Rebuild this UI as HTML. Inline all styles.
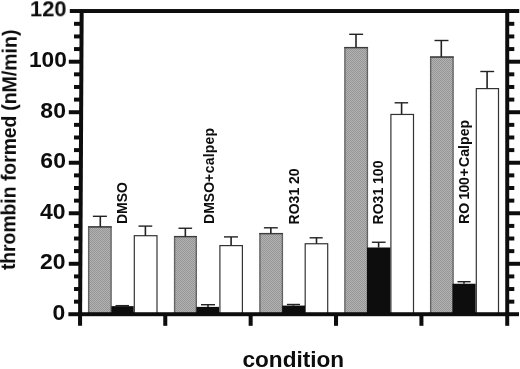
<!DOCTYPE html>
<html><head><meta charset="utf-8"><title>chart</title>
<style>
html,body{margin:0;padding:0;background:#fff;}
body{width:520px;height:369px;overflow:hidden;}
svg{display:block;will-change:transform;}
text{font-family:"Liberation Sans",sans-serif;font-weight:bold;fill:#0c0c0c;}
</style></head><body>
<svg width="520" height="369" viewBox="0 0 520 369">
<defs>
<pattern id="ht" width="2" height="2" patternUnits="userSpaceOnUse">
<rect width="2" height="2" fill="#b3b3b3"/>
<rect width="1" height="1" fill="#959595"/>
<rect x="1" y="1" width="1" height="1" fill="#959595"/>
</pattern>
<filter id="soft" x="0" y="0" width="520" height="369" filterUnits="userSpaceOnUse"><feGaussianBlur stdDeviation="0.38"/></filter>
</defs>
<rect width="520" height="369" fill="#fff"/>
<g filter="url(#soft)">
<rect width="520" height="369" fill="#fff"/>

<rect x="88.65" y="226.90" width="22.45" height="86.70" fill="url(#ht)" stroke="#646464" stroke-width="1.4"/>
<path d="M88.05 226.90H111.70" stroke="#3c3c3c" stroke-width="1.2" fill="none"/>
<rect x="134.30" y="235.70" width="22.70" height="77.90" fill="#fff" stroke="#333" stroke-width="1.2"/>
<rect x="111.40" y="306.15" width="22.25" height="6.85" fill="#080808"/>
<rect x="174.60" y="236.60" width="21.70" height="77.00" fill="url(#ht)" stroke="#646464" stroke-width="1.4"/>
<path d="M174.00 236.60H196.90" stroke="#3c3c3c" stroke-width="1.2" fill="none"/>
<rect x="219.90" y="245.60" width="22.50" height="68.00" fill="#fff" stroke="#333" stroke-width="1.2"/>
<rect x="196.50" y="306.90" width="22.50" height="6.10" fill="#080808"/>
<rect x="259.90" y="233.60" width="22.50" height="80.00" fill="url(#ht)" stroke="#646464" stroke-width="1.4"/>
<path d="M259.30 233.60H283.00" stroke="#3c3c3c" stroke-width="1.2" fill="none"/>
<rect x="305.20" y="243.75" width="22.50" height="69.85" fill="#fff" stroke="#333" stroke-width="1.2"/>
<rect x="282.25" y="305.60" width="22.75" height="7.40" fill="#080808"/>
<rect x="344.90" y="47.60" width="22.50" height="266.00" fill="url(#ht)" stroke="#646464" stroke-width="1.4"/>
<path d="M344.30 47.60H368.00" stroke="#3c3c3c" stroke-width="1.2" fill="none"/>
<rect x="390.90" y="114.45" width="22.60" height="199.15" fill="#fff" stroke="#333" stroke-width="1.2"/>
<rect x="367.10" y="247.50" width="23.15" height="65.50" fill="#080808"/>
<rect x="430.65" y="57.05" width="22.45" height="256.55" fill="url(#ht)" stroke="#646464" stroke-width="1.4"/>
<path d="M430.05 57.05H453.70" stroke="#3c3c3c" stroke-width="1.2" fill="none"/>
<rect x="476.30" y="88.60" width="22.20" height="225.00" fill="#fff" stroke="#333" stroke-width="1.2"/>
<rect x="452.50" y="283.75" width="23.10" height="29.25" fill="#080808"/>
<path d="M92.90 216.30H106.90" stroke="#222" stroke-width="1.4" fill="none"/>
<path d="M100.30 216.30V226.90" stroke="#222" stroke-width="1.6" fill="none"/>
<path d="M138.50 226.10H152.25" stroke="#222" stroke-width="1.4" fill="none"/>
<path d="M145.40 226.10V235.70" stroke="#222" stroke-width="1.6" fill="none"/>
<path d="M115.50 305.65H129.00" stroke="#222" stroke-width="1.4" fill="none"/>
<path d="M178.50 228.25H192.10" stroke="#222" stroke-width="1.4" fill="none"/>
<path d="M185.35 228.25V236.60" stroke="#222" stroke-width="1.6" fill="none"/>
<path d="M201.00 304.70H215.00" stroke="#222" stroke-width="1.4" fill="none"/>
<path d="M208.00 304.70V307.00" stroke="#222" stroke-width="1.6" fill="none"/>
<path d="M224.00 236.90H238.00" stroke="#222" stroke-width="1.4" fill="none"/>
<path d="M231.10 236.90V245.60" stroke="#222" stroke-width="1.6" fill="none"/>
<path d="M263.90 227.80H277.80" stroke="#222" stroke-width="1.4" fill="none"/>
<path d="M270.85 227.80V233.60" stroke="#222" stroke-width="1.6" fill="none"/>
<path d="M286.90 304.50H300.00" stroke="#222" stroke-width="1.4" fill="none"/>
<path d="M293.40 304.50V305.70" stroke="#222" stroke-width="1.6" fill="none"/>
<path d="M309.60 237.80H322.70" stroke="#222" stroke-width="1.4" fill="none"/>
<path d="M316.50 237.80V243.70" stroke="#222" stroke-width="1.6" fill="none"/>
<path d="M349.20 34.30H363.10" stroke="#222" stroke-width="1.4" fill="none"/>
<path d="M356.00 34.30V47.60" stroke="#222" stroke-width="1.6" fill="none"/>
<path d="M371.90 242.25H385.60" stroke="#222" stroke-width="1.4" fill="none"/>
<path d="M378.60 242.25V247.60" stroke="#222" stroke-width="1.6" fill="none"/>
<path d="M394.60 102.80H408.15" stroke="#222" stroke-width="1.4" fill="none"/>
<path d="M401.60 102.80V114.40" stroke="#222" stroke-width="1.6" fill="none"/>
<path d="M434.50 40.50H448.50" stroke="#222" stroke-width="1.4" fill="none"/>
<path d="M441.30 40.50V57.00" stroke="#222" stroke-width="1.6" fill="none"/>
<path d="M457.50 281.70H470.60" stroke="#222" stroke-width="1.4" fill="none"/>
<path d="M464.00 281.70V283.80" stroke="#222" stroke-width="1.6" fill="none"/>
<path d="M480.30 71.50H494.15" stroke="#222" stroke-width="1.4" fill="none"/>
<path d="M487.10 71.50V88.60" stroke="#222" stroke-width="1.6" fill="none"/>
<rect x="69.8" y="9.05" width="449.4" height="3.95" fill="#080808"/>
<rect x="68.4" y="312.25" width="450.6" height="3.95" fill="#080808"/>
<path d="M81.65 10L80.05 325.7" stroke="#080808" stroke-width="4.0" fill="none"/>
<rect x="505.25" y="9.5" width="3.95" height="316.3" fill="#080808"/>
<rect x="163.28" y="314" width="4.0" height="11.8" fill="#080808"/>
<rect x="248.66" y="314" width="4.0" height="11.8" fill="#080808"/>
<rect x="334.04" y="314" width="4.0" height="11.8" fill="#080808"/>
<rect x="419.42" y="314" width="4.0" height="11.8" fill="#080808"/>
<rect x="74.0" y="299.69" width="6.17" height="3.95" fill="#080808"/>
<rect x="507" y="299.69" width="7.3" height="3.95" fill="#080808"/>
<rect x="74.0" y="287.06" width="6.23" height="3.95" fill="#080808"/>
<rect x="507" y="287.06" width="7.3" height="3.95" fill="#080808"/>
<rect x="74.0" y="274.44" width="6.30" height="3.95" fill="#080808"/>
<rect x="507" y="274.44" width="7.3" height="3.95" fill="#080808"/>
<rect x="68.8" y="261.81" width="11.56" height="3.95" fill="#080808"/>
<rect x="507" y="261.81" width="13" height="3.95" fill="#080808"/>
<rect x="74.0" y="249.18" width="6.43" height="3.95" fill="#080808"/>
<rect x="507" y="249.18" width="7.3" height="3.95" fill="#080808"/>
<rect x="74.0" y="236.55" width="6.49" height="3.95" fill="#080808"/>
<rect x="507" y="236.55" width="7.3" height="3.95" fill="#080808"/>
<rect x="74.0" y="223.92" width="6.55" height="3.95" fill="#080808"/>
<rect x="507" y="223.92" width="7.3" height="3.95" fill="#080808"/>
<rect x="68.8" y="211.29" width="11.82" height="3.95" fill="#080808"/>
<rect x="507" y="211.29" width="13" height="3.95" fill="#080808"/>
<rect x="74.0" y="198.66" width="6.68" height="3.95" fill="#080808"/>
<rect x="507" y="198.66" width="7.3" height="3.95" fill="#080808"/>
<rect x="74.0" y="186.03" width="6.75" height="3.95" fill="#080808"/>
<rect x="507" y="186.03" width="7.3" height="3.95" fill="#080808"/>
<rect x="74.0" y="173.40" width="6.81" height="3.95" fill="#080808"/>
<rect x="507" y="173.40" width="7.3" height="3.95" fill="#080808"/>
<rect x="68.8" y="160.77" width="12.07" height="3.95" fill="#080808"/>
<rect x="507" y="160.77" width="13" height="3.95" fill="#080808"/>
<rect x="74.0" y="148.14" width="6.94" height="3.95" fill="#080808"/>
<rect x="507" y="148.14" width="7.3" height="3.95" fill="#080808"/>
<rect x="74.0" y="135.51" width="7.00" height="3.95" fill="#080808"/>
<rect x="507" y="135.51" width="7.3" height="3.95" fill="#080808"/>
<rect x="74.0" y="122.88" width="7.07" height="3.95" fill="#080808"/>
<rect x="507" y="122.88" width="7.3" height="3.95" fill="#080808"/>
<rect x="68.8" y="110.25" width="12.33" height="3.95" fill="#080808"/>
<rect x="507" y="110.25" width="13" height="3.95" fill="#080808"/>
<rect x="74.0" y="97.62" width="7.19" height="3.95" fill="#080808"/>
<rect x="507" y="97.62" width="7.3" height="3.95" fill="#080808"/>
<rect x="74.0" y="84.99" width="7.26" height="3.95" fill="#080808"/>
<rect x="507" y="84.99" width="7.3" height="3.95" fill="#080808"/>
<rect x="74.0" y="72.36" width="7.32" height="3.95" fill="#080808"/>
<rect x="507" y="72.36" width="7.3" height="3.95" fill="#080808"/>
<rect x="68.8" y="59.73" width="12.59" height="3.95" fill="#080808"/>
<rect x="507" y="59.73" width="13" height="3.95" fill="#080808"/>
<rect x="74.0" y="47.10" width="7.45" height="3.95" fill="#080808"/>
<rect x="507" y="47.10" width="7.3" height="3.95" fill="#080808"/>
<rect x="74.0" y="34.47" width="7.51" height="3.95" fill="#080808"/>
<rect x="507" y="34.47" width="7.3" height="3.95" fill="#080808"/>
<rect x="74.0" y="21.84" width="7.58" height="3.95" fill="#080808"/>
<rect x="507" y="21.84" width="7.3" height="3.95" fill="#080808"/>
<text transform="translate(65.4 319.5) scale(1.03 1)" font-size="22.3" text-anchor="end">0</text>
<text transform="translate(65.5 269.1) scale(1.03 1)" font-size="22.3" text-anchor="end">20</text>
<text transform="translate(65.5 218.5) scale(1.03 1)" font-size="22.3" text-anchor="end">40</text>
<text transform="translate(65.9 168.2) scale(1.03 1)" font-size="22.3" text-anchor="end">60</text>
<text transform="translate(65.9 118.0) scale(1.03 1)" font-size="22.3" text-anchor="end">80</text>
<text transform="translate(66.9 66.95) scale(1.02 1)" font-size="22.3" text-anchor="end">100</text>
<text transform="translate(66.6 16.3) scale(0.985 1)" font-size="22.3" text-anchor="end">120</text>
<g transform="rotate(0.42 14.7 270.1)">
<text transform="translate(14.7 270.1) rotate(-90)" font-size="19.3">thrombin</text>
<text transform="translate(14.7 181.05) rotate(-90)" font-size="19.3">formed</text>
<text transform="translate(14.7 110.8) rotate(-90)" font-size="19.5">(nM/min)</text>
</g>
<text x="242.5" y="366.8" font-size="22.6">condition</text>
<text transform="translate(127.25 224.1) rotate(-90)" font-size="14">DMSO</text>
<text transform="translate(213.75 223.9) rotate(-90)" font-size="14">DMSO+<tspan dx="0.4" letter-spacing="0.22">calpep</tspan></text>
<text transform="translate(298.85 224.4) rotate(-90)" font-size="14">RO31 20</text>
<text transform="translate(383.2 224.4) rotate(-90)" font-size="14">RO31 100</text>
<text transform="translate(468.7 224.0) rotate(-90)" font-size="14.15">RO <tspan dx="-0.9" letter-spacing="-0.5">100</tspan><tspan dx="1.1">+</tspan><tspan dx="1.3">Calpep</tspan></text>
</g>
</svg></body></html>
